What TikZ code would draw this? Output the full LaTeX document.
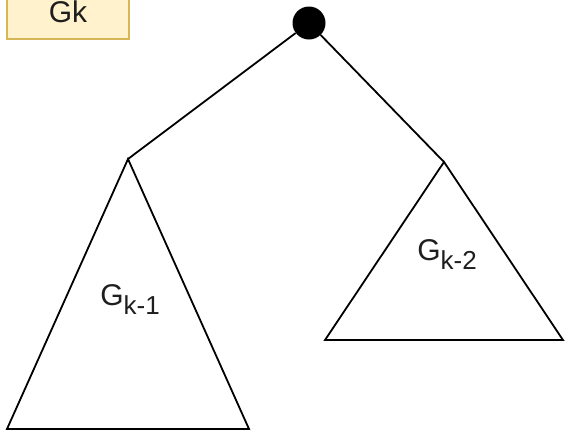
\documentclass[tikz,border=0pt]{standalone}
\usepackage{fontspec}
\setmainfont{Liberation Sans}
\definecolor{boxFill}{HTML}{FFF2CC}
\definecolor{boxDraw}{HTML}{D6B656}
\definecolor{labelGray}{RGB}{30, 30, 30}
\usetikzlibrary{positioning}
\newcommand{\gsub}[1]{G\raisebox{-9pt}{\fontsize{26}{28}\selectfont #1}}

\begin{document}
\begin{tikzpicture}[x=1pt, y=-1pt,
  title/.style={rectangle, draw=boxDraw, fill=boxFill, line width=1.2pt,
                minimum width=122pt, minimum height=54pt,
                font=\fontsize{30}{34}\selectfont, text=labelGray},
  root/.style={circle, fill=black, inner sep=0pt, minimum size=33pt},
  tree/.style={draw=black, line width=1.8pt, line join=miter},
  edge/.style={draw=black, line width=1.8pt},
  sub/.style={font=\fontsize{30}{32}\selectfont, text=labelGray},
]
  \useasboundingbox (0,0) rectangle (565,432);
  \begin{scope}
    \clip (0,0) rectangle (565,432);
    \node[title] (gk) at (68,12) {Gk};
  \end{scope}

  \node[root] (top) at (309,23) {};

  % left subtree
  \coordinate (leftTip) at (128,159);
  \coordinate (leftA) at (7,429);
  \coordinate (leftB) at (249,429);
  \draw[tree] (leftTip) -- (leftA) -- (leftB) -- cycle;
  \node[sub] (gkone) at (130,300) {\gsub{k-1}};

  % right subtree
  \coordinate (rightTip) at (444,162);
  \coordinate (rightA) at (325,340);
  \coordinate (rightB) at (563,340);
  \draw[tree] (rightTip) -- (rightA) -- (rightB) -- cycle;
  \node[sub] (gktwo) at (447,255) {\gsub{k-2}};

  \draw[edge] (top) -- (leftTip);
  \draw[edge] (top) -- (rightTip);
\end{tikzpicture}
\end{document}
